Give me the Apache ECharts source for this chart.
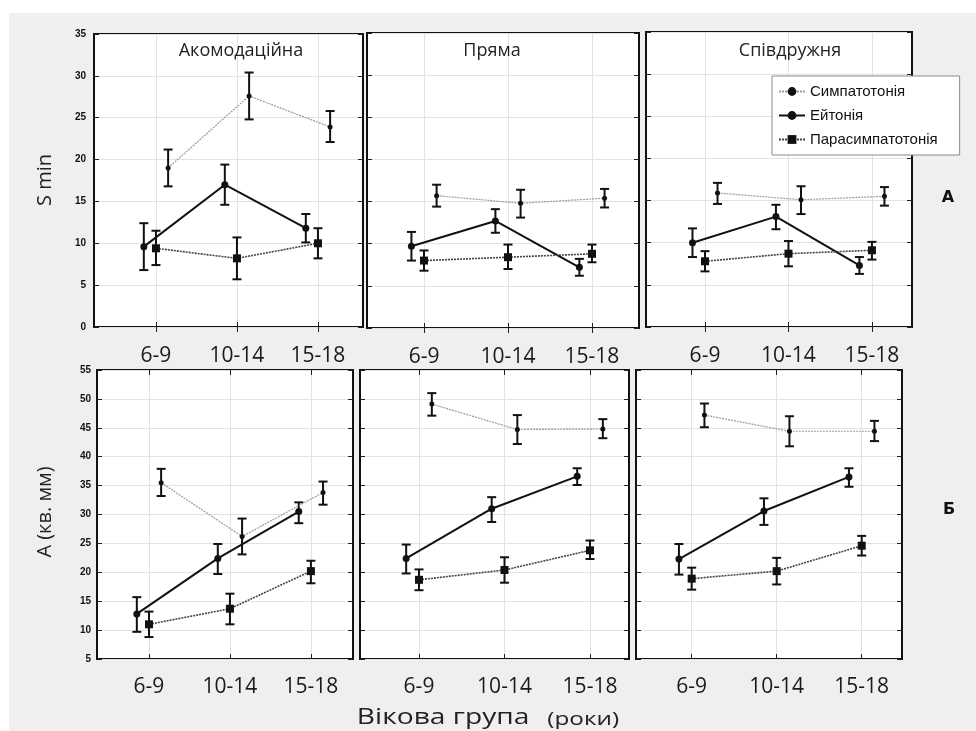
<!DOCTYPE html>
<html>
<head>
<meta charset="utf-8">
<script src="https://cdn.jsdelivr.net/npm/echarts@6/dist/echarts.min.js"></script>
<style>
  html, body { margin: 0; padding: 0; background: #fff; }
  #chart { width: 976px; height: 731px; }
</style>
</head>
<body>
<div id="chart"></div>
<script>
var categories = ['6-9', '10-14', '15-18'];
var seriesNames = ['Симпатотонія', 'Ейтонія', 'Парасимпатотонія'];
var panelTitles = ['Акомодаційна', 'Пряма', 'Співдружня'];

// S min, each point: [mean, lower, upper]
var sminAccSymp = [[19.0, 16.8, 21.2], [27.6, 24.8, 30.4], [23.9, 22.1, 25.8]];
var sminAccEut = [[9.6, 6.8, 12.4], [17.0, 14.6, 19.4], [11.8, 10.1, 13.5]];
var sminAccPara = [[9.4, 7.4, 11.5], [8.2, 5.7, 10.7], [10.0, 8.2, 11.8]];
var sminDirSymp = [[15.7, 14.4, 17.0], [14.8, 13.1, 16.4], [15.4, 14.3, 16.5]];
var sminDirEut = [[9.7, 8.0, 11.4], [12.7, 11.3, 14.1], [7.2, 6.2, 8.2]];
var sminDirPara = [[8.0, 6.8, 9.2], [8.4, 7.0, 9.9], [8.8, 7.8, 9.9]];
var sminConSymp = [[15.9, 14.6, 17.1], [15.1, 13.4, 16.7], [15.5, 14.4, 16.6]];
var sminConEut = [[10.0, 8.3, 11.7], [13.1, 11.6, 14.5], [7.3, 6.3, 8.3]];
var sminConPara = [[7.8, 6.6, 9.0], [8.7, 7.2, 10.2], [9.1, 8.0, 10.1]];

// A (кв. мм)
var areaAccSymp = [[35.5, 33.2, 37.9], [26.2, 23.1, 29.3], [33.8, 31.7, 35.7]];
var areaAccEut = [[12.8, 9.7, 15.7], [22.4, 19.7, 24.9], [30.5, 28.5, 32.1]];
var areaAccPara = [[11.0, 8.8, 13.2], [13.7, 11.0, 16.3], [20.2, 18.1, 22.0]];
var areaDirSymp = [[49.1, 47.1, 51.0], [44.7, 42.2, 47.2], [44.8, 43.2, 46.5]];
var areaDirEut = [[22.4, 19.8, 24.8], [31.0, 28.7, 33.0], [36.6, 35.1, 38.0]];
var areaDirPara = [[18.7, 16.9, 20.5], [20.4, 18.2, 22.6], [23.8, 22.3, 25.5]];
var areaConSymp = [[47.2, 45.1, 49.2], [44.4, 41.8, 47.0], [44.4, 42.7, 46.2]];
var areaConEut = [[22.3, 19.6, 24.9], [30.6, 28.2, 32.8], [36.5, 34.8, 38.0]];
var areaConPara = [[18.9, 17.0, 20.8], [20.2, 17.9, 22.5], [24.6, 22.9, 26.3]];

var panelData = [
    [sminAccSymp, sminAccEut, sminAccPara],
    [sminDirSymp, sminDirEut, sminDirPara],
    [sminConSymp, sminConEut, sminConPara],
    [areaAccSymp, areaAccEut, areaAccPara],
    [areaDirSymp, areaDirEut, areaDirPara],
    [areaConSymp, areaConEut, areaConPara]
];

// panel boxes (pixels) and x ranges so that the category ticks land where they do in the figure
var panels = [
    {left: 94, top: 34, width: 269, height: 293, xMin: 0.235, xMax: 3.556},
    {left: 367, top: 33, width: 272, height: 295, xMin: 0.321, xMax: 3.56},
    {left: 646, top: 32, width: 266, height: 295, xMin: 0.293, xMax: 3.48},
    {left: 97, top: 370, width: 256, height: 289, xMin: 0.358, xMax: 3.52},
    {left: 360, top: 370, width: 269, height: 289, xMin: 0.31, xMax: 3.456},
    {left: 636, top: 370, width: 266, height: 289, xMin: 0.345, xMax: 3.474}
];

var dodge = [0.15, -0.15, 0];
var styles = [
    {symbol: 'circle', symbolSize: 5, line: {color: '#9c9c9c', width: 1.2, type: [2, 1]}},
    {symbol: 'circle', symbolSize: 7, line: {color: '#111', width: 2, type: 'solid'}},
    {symbol: 'rect', symbolSize: 8, line: {color: '#444', width: 1.6, type: [2, 1]}}
];

function errorBar(params, api) {
    var x = api.value(0);
    var top = api.coord([x, api.value(2)]);
    var bot = api.coord([x, api.value(1)]);
    var cap = 4.5;
    var st = {stroke: '#111', lineWidth: 2};
    return {
        type: 'group',
        children: [
            {type: 'line', shape: {x1: top[0], y1: top[1], x2: bot[0], y2: bot[1]}, style: st},
            {type: 'line', shape: {x1: top[0] - cap, y1: top[1], x2: top[0] + cap, y2: top[1]}, style: st},
            {type: 'line', shape: {x1: bot[0] - cap, y1: bot[1], x2: bot[0] + cap, y2: bot[1]}, style: st}
        ]
    };
}

var grids = [], xAxes = [], yAxes = [], series = [];
var tickStyle = {show: true, inside: true, length: 5, lineStyle: {color: '#222', width: 1}};
var gridLine = {show: true, lineStyle: {color: '#e2e2e2', width: 1}};

panels.forEach(function (p, i) {
    var topRow = i < 3;
    grids.push({
        left: p.left, top: p.top, width: p.width, height: p.height,
        show: true, backgroundColor: '#fff', borderColor: '#111', borderWidth: 2
    });
    xAxes.push({
        type: 'value', gridIndex: i, position: 'bottom', min: p.xMin, max: p.xMax,
        axisLine: {show: false},
        axisTick: Object.assign({customValues: [1, 2, 3]}, tickStyle),
        axisLabel: {
            customValues: [1, 2, 3], margin: topRow ? 19 : 18,
            fontFamily: 'Open Sans', fontSize: 21, color: '#1a1a1a',
            formatter: function (v) { return categories[Math.round(v) - 1]; }
        },
        splitLine: gridLine
    });
    xAxes.push({
        type: 'value', gridIndex: i, position: 'top', min: p.xMin, max: p.xMax,
        axisLine: {show: false},
        axisTick: Object.assign({customValues: [1, 2, 3]}, tickStyle),
        axisLabel: {show: false}, splitLine: {show: false}
    });
    var yMin = topRow ? 0 : 5, yMax = topRow ? 35 : 55;
    yAxes.push({
        type: 'value', gridIndex: i, position: 'left', min: yMin, max: yMax, interval: 5,
        axisLine: {show: false}, axisTick: tickStyle,
        axisLabel: {
            show: i === 0 || i === 3, margin: topRow ? 8 : 6,
            fontFamily: 'Liberation Sans Narrow, Liberation Sans', fontWeight: 'bold', fontSize: 10, color: '#111'
        },
        splitLine: gridLine
    });
    yAxes.push({
        type: 'value', gridIndex: i, position: 'right', min: yMin, max: yMax, interval: 5,
        axisLine: {show: false}, axisTick: tickStyle,
        axisLabel: {show: false}, splitLine: {show: false}
    });

    panelData[i].forEach(function (arr, s) {
        series.push({
            name: seriesNames[s], type: 'line',
            xAxisIndex: 2 * i, yAxisIndex: 2 * i,
            data: arr.map(function (d, k) { return [k + 1 + dodge[s], d[0]]; }),
            symbol: styles[s].symbol, symbolSize: styles[s].symbolSize,
            itemStyle: {color: '#111'},
            lineStyle: styles[s].line,
            z: 3, silent: true, animation: false
        });
        series.push({
            type: 'custom',
            xAxisIndex: 2 * i, yAxisIndex: 2 * i,
            data: arr.map(function (d, k) { return [k + 1 + dodge[s], d[1], d[2]]; }),
            encode: {x: 0, y: [1, 2]},
            renderItem: errorBar,
            z: 2, silent: true, animation: false
        });
    });
});

var titleCenters = [[241, 51], [492, 51], [790, 51]];
var graphics = [
    {type: 'rect', left: 0, top: 0, shape: {width: 976, height: 13}, style: {fill: '#fff'}, z: -10},
    {type: 'rect', left: 0, top: 0, shape: {width: 9, height: 731}, style: {fill: '#fff'}, z: -10}
];
panelTitles.forEach(function (t, i) {
    graphics.push({
        type: 'text', x: titleCenters[i][0], y: titleCenters[i][1], z: 10,
        style: {text: t, fontFamily: 'Open Sans', fontSize: 18, fill: '#222', align: 'center', verticalAlign: 'middle'}
    });
});
graphics.push(
    {type: 'text', x: 45, y: 180, rotation: Math.PI / 2, z: 10,
        style: {text: 'S min', fontFamily: 'Open Sans', fontSize: 20, fill: '#222', align: 'center', verticalAlign: 'middle'}},
    {type: 'text', x: 45, y: 512, rotation: Math.PI / 2, z: 10,
        style: {text: 'A (кв. мм)', fontFamily: 'Open Sans', fontSize: 20, fill: '#222', align: 'center', verticalAlign: 'middle'}},
    {type: 'text', x: 488, y: 718, scaleX: 1.28, z: 10,
        style: {
            text: '{a|Вікова група}{b|(роки)}', align: 'center', verticalAlign: 'middle',
            rich: {
                a: {fontFamily: 'Open Sans', fontSize: 22, fill: '#222', verticalAlign: 'bottom'},
                b: {fontFamily: 'Open Sans', fontSize: 19, fill: '#222', verticalAlign: 'bottom', padding: [0, 0, 0, 14]}
            }
        }},
    {type: 'text', x: 948, y: 198, z: 10,
        style: {text: 'А', fontFamily: 'DejaVu Sans', fontWeight: 'bold', fontSize: 16, fill: '#111', align: 'center', verticalAlign: 'middle'}},
    {type: 'text', x: 949, y: 510, z: 10,
        style: {text: 'Б', fontFamily: 'DejaVu Sans', fontWeight: 'bold', fontSize: 16, fill: '#111', align: 'center', verticalAlign: 'middle'}}
);

var myChart = echarts.init(document.getElementById('chart'));
var option = {
    backgroundColor: '#efefef',
    animation: false,
    legend: {
        data: seriesNames,
        orient: 'vertical', left: 772, top: 76,
        backgroundColor: '#fff', borderColor: '#8a8a8a', borderWidth: 1, borderRadius: 0,
        padding: [8, 22, 8, 6], itemGap: 9, itemWidth: 26, itemHeight: 11,
        textStyle: {fontFamily: 'Liberation Sans', fontSize: 15, color: '#111'},
        z: 20
    },
    grid: grids,
    xAxis: xAxes,
    yAxis: yAxes,
    series: series,
    graphic: graphics
};
myChart.setOption(option);
</script>
</body>
</html>
